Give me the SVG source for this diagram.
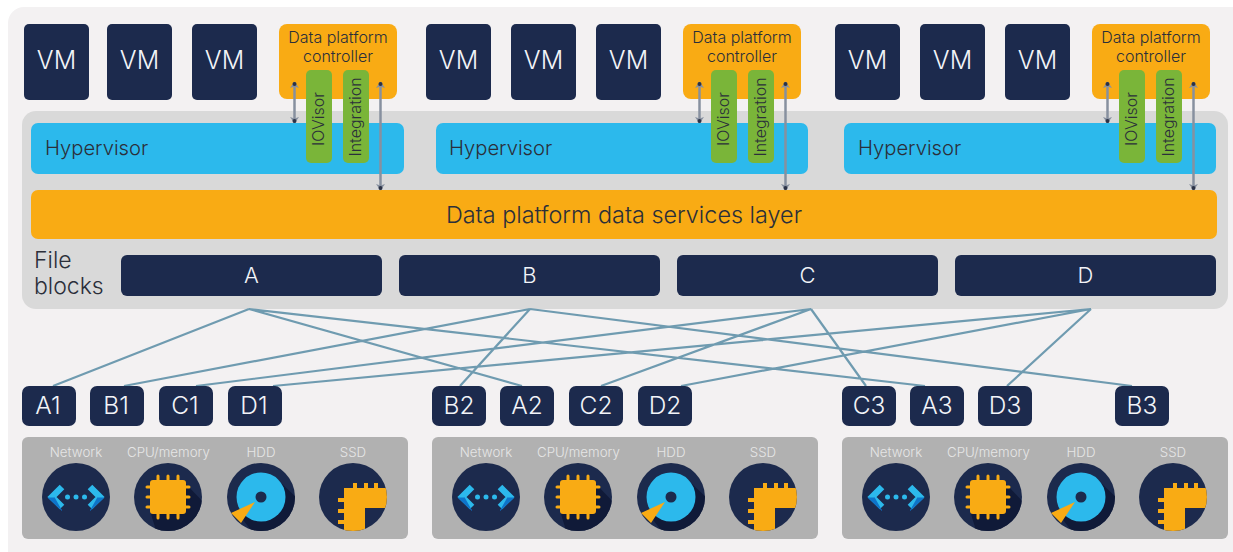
<svg xmlns="http://www.w3.org/2000/svg" width="1233" height="552" viewBox="0 0 1233 552">
<style>
text{font-family:"Inter","Liberation Sans",sans-serif;font-weight:300}
.c{text-anchor:middle}
.navy{fill:#1c2a4d}
.vm{fill:#1c2a4d;rx:5px}
.w{fill:#f2f4f8}
.d{fill:#2b2f3a}
.org{fill:#f9ab14}
.blue{fill:#2cb9ec}
.grn{fill:#7ab539}
.ln{fill:none;stroke:#6f9bb0;stroke-width:2.200}
.ar{stroke:#87909f;stroke-width:2.500;fill:none;marker-start:url(#h);marker-end:url(#h)}
.lab{fill:#e6e6e6;font-size:13.300px}
.vt{font-size:25px}.tg{font-size:24.500px}
.ct{font-size:16px}.rt{font-size:16px}.hv{font-size:20.200px}
</style>
<defs>
<marker id="h" viewBox="0 0 10 10" refX="9" refY="5" markerWidth="10" markerHeight="10" markerUnits="userSpaceOnUse" orient="auto-start-reverse">
<path d="M3 0.500L9.500 5L3 9.500L4.500 5Z" fill="#87909f"/><circle cx="7" cy="5" r="2" fill="#2b3247"/>
</marker>
<clipPath id="cc"><circle cx="0" cy="0" r="34"/></clipPath>
<g id="i-net"><circle r="34" class="navy"/>
<path d="M-14-10L-24 0L-14 10M14-10L24 0L14 10" fill="none" stroke="#2cb9ec" stroke-width="6.500"/>
<path d="M-21 1L-27.500 1L-14 13.500M21 1L27.500 1L14 13.500" fill="#0f74c9" stroke="#0f74c9" stroke-width="1"/>
<circle cx="-8.500" r="2.500" class="blue"/><circle r="2.500" class="blue"/><circle cx="8.500" r="2.500" class="blue"/></g>
<g id="i-cpu"><circle r="34" class="navy"/>
<g clip-path="url(#cc)"><path d="M17-14L40 10L40 40L-10 40L-17 17Z" fill="#101a38"/></g>
<path d="M-21-10H21M-21 0H21M-21 10H21M-10-21V21M0-21V21M10-21V21" stroke="#f9ab14" stroke-width="3" stroke-linecap="round"/>
<rect x="-18" y="-17" width="36" height="34" rx="3" class="org"/></g>
<g id="i-hdd"><circle r="34" class="navy"/>
<g clip-path="url(#cc)"><path d="M17-17L40 5L40 40L-5 40L-20 20Z" fill="#101a38"/></g>
<circle r="24.500" class="blue"/><circle r="5.500" class="navy"/>
<path d="M-6 5L-30 16L-20 26Z" class="org"/></g>
<g id="i-ssd"><circle r="34" class="navy"/>
<g clip-path="url(#cc)">
<path d="M-9-9H34V11H12V34H-9Z" class="org"/>
<path d="M0-14h4v6h-4zM11-14h4v6h-4zM21-14h4v6h-4zM-15 1h7v4h-7zM-15 12h7v4h-7zM-15 23h7v4h-7z" class="org"/></g></g>
</defs>
<rect width="1233" height="552" fill="#fff"/>
<rect x="8" y="7" width="1240" height="560" rx="16" fill="#f3f1f2"/>
<rect x="22" y="111" width="1206" height="198" rx="14" fill="#d9d9d9"/>

<g id="vms">
<g id="vm1"><rect x="24" y="24" width="65" height="76" class="vm"/><text x="56.500" y="69" class="c w vt">VM</text></g>
<g id="vm2"><rect x="107" y="24" width="65" height="76" class="vm"/><text x="139.500" y="69" class="c w vt">VM</text></g>
<g id="vm3"><rect x="192" y="24" width="65" height="76" class="vm"/><text x="224.500" y="69" class="c w vt">VM</text></g>
<g id="vm4"><rect x="426" y="24" width="65" height="76" class="vm"/><text x="458.500" y="69" class="c w vt">VM</text></g>
<g id="vm5"><rect x="511" y="24" width="65" height="76" class="vm"/><text x="543.500" y="69" class="c w vt">VM</text></g>
<g id="vm6"><rect x="596" y="24" width="65" height="76" class="vm"/><text x="628.500" y="69" class="c w vt">VM</text></g>
<g id="vm7"><rect x="835" y="24" width="65" height="76" class="vm"/><text x="867.500" y="69" class="c w vt">VM</text></g>
<g id="vm8"><rect x="920" y="24" width="65" height="76" class="vm"/><text x="952.500" y="69" class="c w vt">VM</text></g>
<g id="vm9"><rect x="1005" y="24" width="65" height="76" class="vm"/><text x="1037.500" y="69" class="c w vt">VM</text></g>
</g>

<g id="hypervisors">
<g id="hv1"><rect x="31" y="123" width="373" height="51" rx="7" class="blue"/><text x="45" y="154.500" class="d hv">Hypervisor</text></g>
<g id="hv2"><rect x="436" y="123" width="372" height="51" rx="7" class="blue"/><text x="449" y="154.500" class="d hv">Hypervisor</text></g>
<g id="hv3"><rect x="844" y="123" width="372" height="51" rx="7" class="blue"/><text x="858" y="154.500" class="d hv">Hypervisor</text></g>
</g>

<g id="controllers">
<g id="ctl1"><rect x="279" y="24" width="118" height="75" rx="8" class="org"/><text x="338" y="43" class="c d ct">Data platform</text><text x="338" y="62" class="c d ct">controller</text>
<rect x="306" y="70" width="26" height="93" rx="5" class="grn"/><text transform="translate(323.500 119) rotate(-90)" class="c d rt">IOVisor</text>
<rect x="343" y="70" width="26" height="93" rx="5" class="grn"/><text transform="translate(360.500 117) rotate(-90)" class="c d rt">Integration</text></g>
<g id="ctl2"><rect x="683" y="24" width="118" height="75" rx="8" class="org"/><text x="742" y="43" class="c d ct">Data platform</text><text x="742" y="62" class="c d ct">controller</text>
<rect x="711" y="70" width="26" height="93" rx="5" class="grn"/><text transform="translate(728.500 119) rotate(-90)" class="c d rt">IOVisor</text>
<rect x="748" y="70" width="26" height="93" rx="5" class="grn"/><text transform="translate(765.500 117) rotate(-90)" class="c d rt">Integration</text></g>
<g id="ctl3"><rect x="1092" y="24" width="118" height="75" rx="8" class="org"/><text x="1151" y="43" class="c d ct">Data platform</text><text x="1151" y="62" class="c d ct">controller</text>
<rect x="1119" y="70" width="26" height="93" rx="5" class="grn"/><text transform="translate(1136.500 119) rotate(-90)" class="c d rt">IOVisor</text>
<rect x="1156" y="70" width="26" height="93" rx="5" class="grn"/><text transform="translate(1173.500 117) rotate(-90)" class="c d rt">Integration</text></g>
</g>

<g id="data-layer"><rect x="31" y="190" width="1186" height="49" rx="7" class="org"/><text x="624" y="223" font-size="23.400" class="c d">Data platform data services layer</text></g>

<g id="file-blocks-label"><text x="34" y="268" font-size="23" class="d">File</text><text x="34" y="294" font-size="23" class="d">blocks</text></g>
<g id="block-a"><rect x="121" y="255" width="261" height="41" rx="6" class="navy"/><text x="251.500" y="283" font-size="22" class="c w">A</text></g>
<g id="block-b"><rect x="399" y="255" width="261" height="41" rx="6" class="navy"/><text x="529.500" y="283" font-size="22" class="c w">B</text></g>
<g id="block-c"><rect x="677" y="255" width="261" height="41" rx="6" class="navy"/><text x="807.500" y="283" font-size="22" class="c w">C</text></g>
<g id="block-d"><rect x="955" y="255" width="261" height="41" rx="6" class="navy"/><text x="1085.500" y="283" font-size="22" class="c w">D</text></g>

<g id="connectors">
<path class="ln" d="M249 309L53 386M249 309L522 386M249 309L925 386M530 309L124 386M530 309L460 386M530 309L1132 386M811 309L196 386M811 309L601 386M811 309L866 386M1091 309L273 386M1091 309L681 386M1091 309L1007 386"/>
<path class="ar" d="M294.500 82V123"/><path class="ar" d="M380.500 82V190"/>
<path class="ar" d="M699.500 82V123"/><path class="ar" d="M785.500 82V190"/>
<path class="ar" d="M1107.500 82V123"/><path class="ar" d="M1193.500 82V190"/>
</g>

<g id="tags">
<g id="t-a1"><rect x="22" y="386" width="54" height="40" rx="7" class="navy"/><text x="48" y="414" class="c w tg">A1</text></g>
<g id="t-b1"><rect x="90" y="386" width="54" height="40" rx="7" class="navy"/><text x="116" y="414" class="c w tg">B1</text></g>
<g id="t-c1"><rect x="159" y="386" width="54" height="40" rx="7" class="navy"/><text x="185" y="414" class="c w tg">C1</text></g>
<g id="t-d1"><rect x="228" y="386" width="54" height="40" rx="7" class="navy"/><text x="254" y="414" class="c w tg">D1</text></g>
<g id="t-b2"><rect x="432" y="386" width="54" height="40" rx="7" class="navy"/><text x="459" y="414" class="c w tg">B2</text></g>
<g id="t-a2"><rect x="500" y="386" width="54" height="40" rx="7" class="navy"/><text x="527" y="414" class="c w tg">A2</text></g>
<g id="t-c2"><rect x="569" y="386" width="54" height="40" rx="7" class="navy"/><text x="596" y="414" class="c w tg">C2</text></g>
<g id="t-d2"><rect x="638" y="386" width="54" height="40" rx="7" class="navy"/><text x="665" y="414" class="c w tg">D2</text></g>
<g id="t-c3"><rect x="842" y="386" width="54" height="40" rx="7" class="navy"/><text x="869" y="414" class="c w tg">C3</text></g>
<g id="t-a3"><rect x="910" y="386" width="54" height="40" rx="7" class="navy"/><text x="937" y="414" class="c w tg">A3</text></g>
<g id="t-d3"><rect x="978" y="386" width="54" height="40" rx="7" class="navy"/><text x="1005" y="414" class="c w tg">D3</text></g>
<g id="t-b3"><rect x="1115" y="386" width="54" height="40" rx="7" class="navy"/><text x="1142" y="414" class="c w tg">B3</text></g>
</g>

<g id="server1"><rect x="22" y="437" width="386" height="102" rx="6" fill="#b1b1b1"/>
<text x="76" y="457" class="c lab">Network</text><text x="168.500" y="457" class="c lab">CPU/memory</text><text x="261" y="457" class="c lab">HDD</text><text x="353" y="457" class="c lab">SSD</text>
<use href="#i-net" x="76" y="497"/><use href="#i-cpu" x="168" y="497"/><use href="#i-hdd" x="261" y="497"/><use href="#i-ssd" x="353" y="497"/></g>
<g id="server2"><rect x="432" y="437" width="386" height="102" rx="6" fill="#b1b1b1"/>
<text x="486" y="457" class="c lab">Network</text><text x="578.500" y="457" class="c lab">CPU/memory</text><text x="671" y="457" class="c lab">HDD</text><text x="763" y="457" class="c lab">SSD</text>
<use href="#i-net" x="486" y="497"/><use href="#i-cpu" x="578" y="497"/><use href="#i-hdd" x="671" y="497"/><use href="#i-ssd" x="763" y="497"/></g>
<g id="server3"><rect x="842" y="437" width="386" height="102" rx="6" fill="#b1b1b1"/>
<text x="896" y="457" class="c lab">Network</text><text x="988.500" y="457" class="c lab">CPU/memory</text><text x="1081" y="457" class="c lab">HDD</text><text x="1173" y="457" class="c lab">SSD</text>
<use href="#i-net" x="896" y="497"/><use href="#i-cpu" x="988" y="497"/><use href="#i-hdd" x="1081" y="497"/><use href="#i-ssd" x="1173" y="497"/></g>
</svg>
